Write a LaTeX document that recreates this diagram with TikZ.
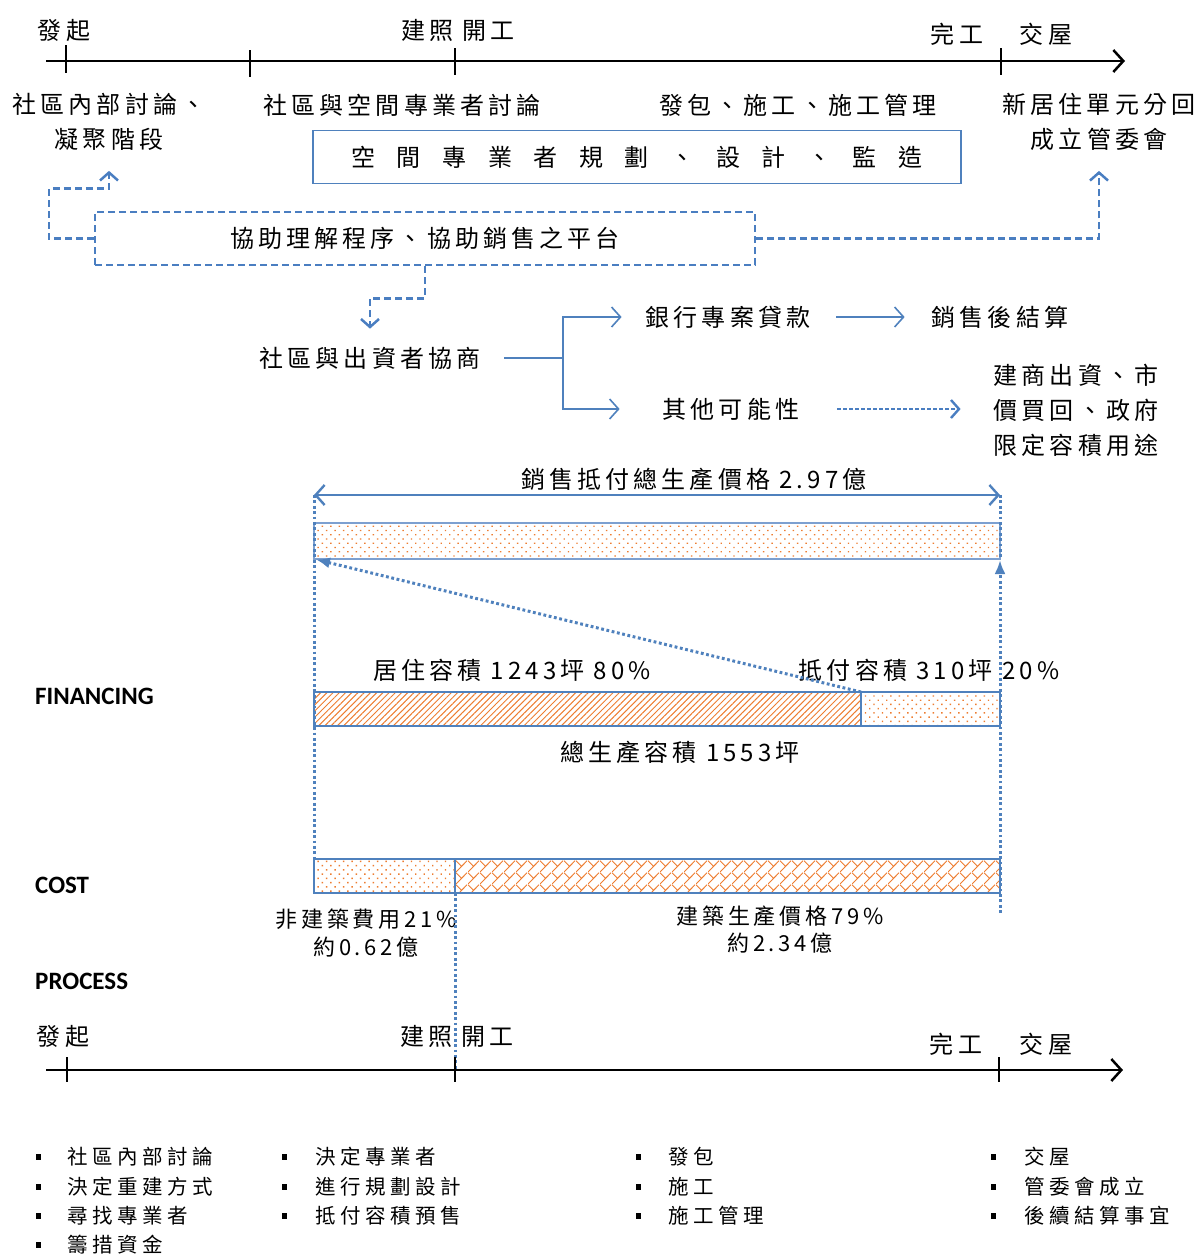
\documentclass[tikz,border=0pt]{standalone}
\usepackage{fontspec}
\usetikzlibrary{arrows.meta,patterns.meta}
\newfontfamily\cjk[LetterSpace=17]{Noto Sans CJK TC}
\newfontfamily\cjkwide[LetterSpace=90]{Noto Sans CJK TC}
\newfontfamily\cjklist[LetterSpace=22]{Noto Sans CJK TC}
\newfontfamily\headfont{Carlito}
\definecolor{lineblue}{RGB}{79,129,189}
\definecolor{barblue}{RGB}{125,160,208}
\definecolor{dashblue}{RGB}{74,126,193}
\definecolor{patorange}{RGB}{237,125,49}

% diagonal brick fill for the construction cost share
\tikzdeclarepattern{
  name=DiagBrick,
  type=uncolored,
  bounding box={(0pt,0pt) and (12pt,12pt)},
  tile size={(12pt,12pt)},
  code={
    \draw[line width=1pt] (0pt,0pt) -- (12pt,12pt);
    \draw[line width=1pt] (6pt,6pt) -- (0pt,12pt);
  }
}

\begin{document}
\begin{tikzpicture}[x=1pt,y=-1pt,
  txt/.style={font=\cjk\fontsize{24}{35}\selectfont, inner sep=0pt, align=center},
  listtxt/.style={font=\cjklist\fontsize{20.5}{24}\selectfont, inner sep=0pt, anchor=west},
  head/.style={font=\headfont\bfseries\fontsize{25}{30}\selectfont, inner sep=0pt, anchor=west},
  timeline/.style={line width=2.5pt, -{Straight Barb[length=10pt,width=22pt]}},
  tickmark/.style={line width=2pt},
  planbox/.style={draw=lineblue, line width=1.3pt, minimum width=648pt, minimum height=53pt, inner sep=0pt},
  dashbox/.style={draw=dashblue, line width=2.5pt, dash pattern=on 7pt off 4pt, minimum width=660pt, minimum height=53pt, inner sep=0pt},
  dashconn/.style={dashblue, line width=2.5pt, dash pattern=on 7pt off 4pt, -{Straight Barb[length=8pt,width=18pt]}},
  solidconn/.style={lineblue, line width=1.6pt},
  solidarrow/.style={lineblue, line width=1.6pt, -{Straight Barb[length=9pt,width=20pt]}},
  shortdash/.style={dashblue, line width=2.4pt, dash pattern=on 4pt off 2pt, -{Straight Barb[length=8pt,width=18pt]}},
  dotline/.style={lineblue, line width=3pt, dash pattern=on 2.8pt off 2.6pt},
  spanarrow/.style={lineblue, line width=2.4pt, {Straight Barb[length=9pt,width=20pt]}-{Straight Barb[length=9pt,width=20pt]}},
  dotarrow/.style={dotline, -{Latex[length=14pt,width=11pt]}},
  barframe/.style={draw=lineblue, line width=1.3pt},
  dotsfill/.style={pattern={Dots[distance=6pt,radius=1pt,angle=45]}, pattern color=patorange},
  hatchfill/.style={pattern={Lines[angle=45,distance=4.4pt,line width=1pt]}, pattern color=patorange},
  brickfill/.style={pattern=DiagBrick, pattern color=patorange}
]
\useasboundingbox (0,0) rectangle (1198,1256);

% ---------------- upper time line ----------------
\coordinate (uStart) at (46,61);
\coordinate (uEnd) at (1125,61);
\draw[timeline] (uStart) -- (uEnd);
\draw[tickmark] (66,45) -- (66,73);
\draw[tickmark] (250,50) -- (250,77);
\draw[tickmark] (455,48) -- (455,75);
\draw[tickmark] (1001,48) -- (1001,75);

\node[txt] (uStartLbl) at (64,30) {發起};
\node[txt] (uPermitLbl) at (458,30) {建照 開工};
\node[txt] (uDoneLbl) at (957,34) {完工};
\node[txt] (uHandLbl) at (1046,34) {交屋};

\node[txt] (stage) at (109,122) {社區內部討論、\\凝聚階段};
\node[txt] (prodisc) at (402,105) {社區與空間專業者討論};
\node[txt] (contract) at (798,105) {發包、施工、施工管理};
\node[txt] (unit) at (1099,122) {新居住單元分回\\成立管委會};

\node[planbox] (plan) at (637,157) {\cjkwide\fontsize{24}{28}\selectfont 空間專業者規劃、設計、監造};

% ---------------- platform and its links ----------------
\node[dashbox] (platform) at (425,238.5) {};
\node[txt] (platformLbl) at (platform) {協助理解程序、協助銷售之平台};

\draw[dashconn, shorten >=20pt] (platform.west) -- ++(-45,0) -- ++(0,-50) -| (stage.south);
\draw[dashconn, shorten >=20pt] (platform.east) -| (unit.south);

\node[txt] (negot) at (370,358) {社區與出資者協商};
\draw[dashconn, shorten >=18pt] (platform.south) -- ++(0,32) -| (negot.north);

% ---------------- financing options ----------------
\node[txt] (loan) at (728,317) {銀行專案貸款};
\node[txt] (settle) at (1000,317) {銷售後結算};
\node[txt] (other) at (731,409) {其他可能性};
\node[txt] (alt) at (1076,410) {建商出資、市\\價買回、政府\\限定容積用途};

\coordinate (split) at (563,358);
\draw[solidconn] ([xshift=24pt]negot.east) -- (split |- negot.east);
\draw[solidarrow, shorten >=24pt] (split) |- (loan.west);
\draw[solidarrow, shorten >=43pt] (split) |- (other.west);
\draw[solidarrow, shorten <=26pt, shorten >=27pt] (loan.east) -- (settle.west);
\draw[shortdash, shorten <=38pt, shorten >=33pt] (other.east) -- (alt.west |- other.east);

% ---------------- floor area and price bars ----------------
\node[head] (finLbl) at (35,696) {FINANCING};
\node[head] (costLbl) at (35,885) {COST};
\node[head] (procLbl) at (35,981) {PROCESS};

\coordinate (spanL) at (314,495);
\coordinate (spanR) at (1000,495);
\draw[spanarrow] (spanL) -- (spanR);
\node[txt] (spanLbl) at (694,479) {銷售抵付總生產價格 2.97億};

\coordinate (sbTL) at (314,523);
\coordinate (sbBR) at (1000,559);
\coordinate (sbBL) at (314,559);
\filldraw[draw=barblue, line width=2.4pt, dotsfill] (sbTL) rectangle (sbBR);

\coordinate (mbTL) at (314,692);
\coordinate (mbSplit) at (861,692);
\coordinate (mbSplitB) at (861,726);
\coordinate (mbBR) at (1000,726);
\filldraw[barframe, hatchfill] (mbTL) rectangle (mbSplitB);
\filldraw[barframe, dotsfill] (mbSplit) rectangle (mbBR);

\node[txt] (resLbl) at (512,670) {居住容積 1243坪 80\%};
\node[txt] (payLbl) at (929,670) {抵付容積 310坪 20\%};
\node[txt] (totLbl) at (680,752) {總生產容積 1553坪};

\coordinate (cbTL) at (314,859);
\coordinate (cbSplit) at (455,859);
\coordinate (cbSplitB) at (455,893);
\coordinate (cbBR) at (1000,893);
\filldraw[barframe, dotsfill] (cbTL) rectangle (cbSplitB);
\filldraw[barframe, brickfill] (cbSplit) rectangle (cbBR);

\node[txt, font=\cjk\fontsize{22}{28}\selectfont] (nonLbl) at (366,933) {非建築費用21\%\\約0.62億};
\node[txt, font=\cjk\fontsize{22}{27}\selectfont] (bldLbl) at (780,929.5) {建築生產價格79\%\\約2.34億};

% dotted guides
\coordinate (rEnd) at (1000,913);
\draw[dotline] (spanL) -- (cbTL);
\draw[dotline] (spanR) -- (sbBR);
\draw[dotarrow, shorten >=1pt] (rEnd) -- (sbBR);
\draw[dotarrow, shorten >=2pt] (mbSplit) -- (sbBL);

% ---------------- lower time line ----------------
\coordinate (lStart) at (46,1070);
\coordinate (lEnd) at (1123,1070);
\draw[dotline] (cbSplitB) -- (cbSplitB |- lStart);
\draw[timeline] (lStart) -- (lEnd);
\draw[tickmark] (67,1057) -- (67,1082);
\draw[tickmark] (455,1057) -- (455,1082);
\draw[tickmark] (999,1057) -- (999,1082);

\node[txt] (lStartLbl) at (63,1036) {發起};
\node[txt] (lPermitLbl) at (457,1036) {建照 開工};
\node[txt] (lDoneLbl) at (956,1044) {完工};
\node[txt] (lHandLbl) at (1046,1044) {交屋};

% ---------------- task lists ----------------
\foreach \t/\y [count=\i] in {社區內部討論/1157,決定重建方式/1187,尋找專業者/1216,籌措資金/1245}{
  \fill (36,\y-3) rectangle ++(5,6);
  \node[listtxt] (pa\i) at (67,\y) {\t};
}
\foreach \t/\y [count=\i] in {決定專業者/1157,進行規劃設計/1187,抵付容積預售/1216}{
  \fill (282,\y-3) rectangle ++(5,6);
  \node[listtxt] (pb\i) at (315,\y) {\t};
}
\foreach \t/\y [count=\i] in {發包/1157,施工/1187,施工管理/1216}{
  \fill (636,\y-3) rectangle ++(5,6);
  \node[listtxt] (pc\i) at (668,\y) {\t};
}
\foreach \t/\y [count=\i] in {交屋/1157,管委會成立/1187,後續結算事宜/1216}{
  \fill (991,\y-3) rectangle ++(5,6);
  \node[listtxt] (pd\i) at (1024,\y) {\t};
}
\end{tikzpicture}
\end{document}
